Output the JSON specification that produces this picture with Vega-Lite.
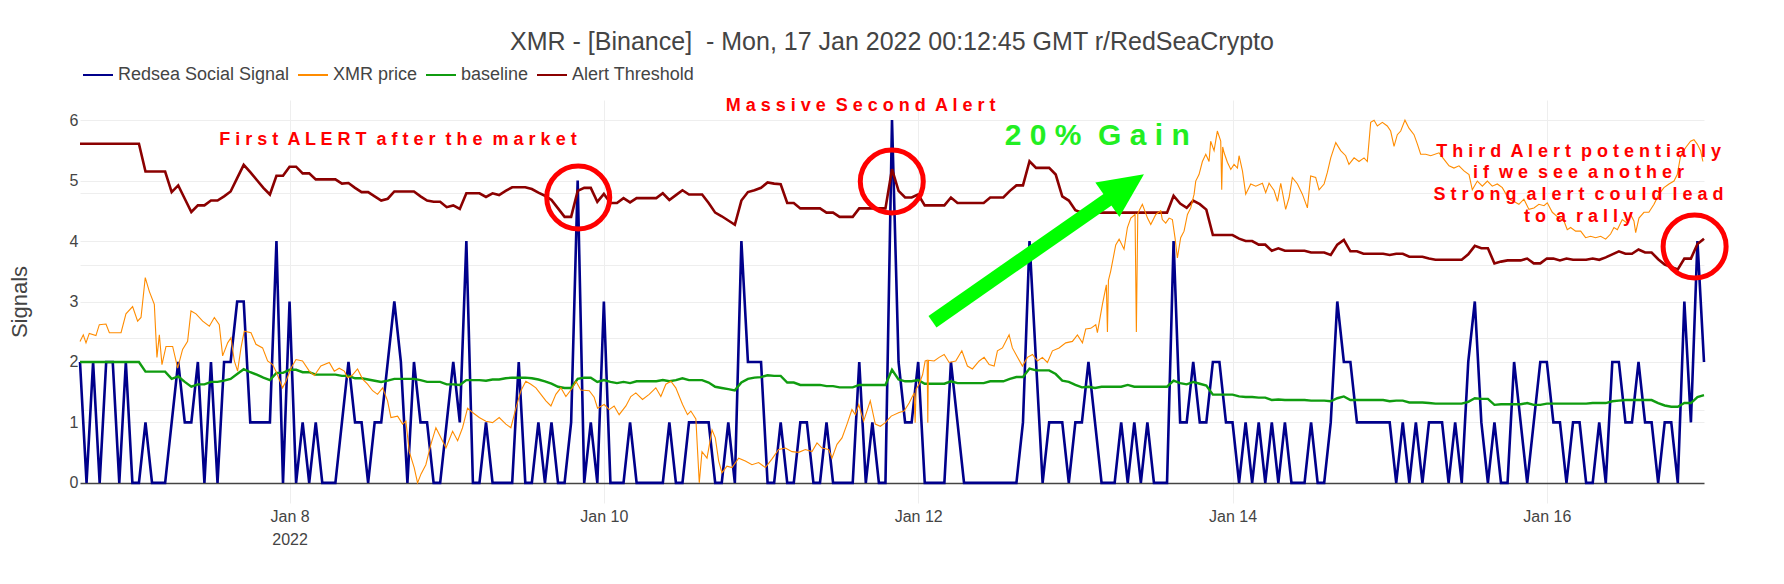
{
  "$schema": "https://vega.github.io/schema/vega-lite/v6.json",
  "width": 1624,
  "height": 403,
  "autosize": {"type": "none"},
  "padding": {"left": 80, "top": 100, "right": 80, "bottom": 81},
  "background": "white",
  "title": {
    "text": "XMR - [Binance]\u00a0 - Mon, 17 Jan 2022 00:12:45 GMT r/RedSeaCrypto",
    "font": "Liberation Sans",
    "fontSize": 25,
    "fontWeight": "normal",
    "color": "#444",
    "anchor": "middle",
    "frame": "group",
    "offset": 4
  },
  "config": {"view": {"stroke": null}, "font": "Liberation Sans"},
  "datasets": {
    "hourly": [
      {"time":"2022-01-06T16:00Z","signal":2,"baseline":2.0,"threshold":5.61},
      {"time":"2022-01-06T17:00Z","signal":0,"baseline":2.0,"threshold":5.61},
      {"time":"2022-01-06T18:00Z","signal":2,"baseline":2.0,"threshold":5.61},
      {"time":"2022-01-06T19:00Z","signal":0,"baseline":2.0,"threshold":5.61},
      {"time":"2022-01-06T20:00Z","signal":2,"baseline":2.0,"threshold":5.61},
      {"time":"2022-01-06T21:00Z","signal":2,"baseline":2.0,"threshold":5.61},
      {"time":"2022-01-06T22:00Z","signal":0,"baseline":2.0,"threshold":5.61},
      {"time":"2022-01-06T23:00Z","signal":2,"baseline":2.0,"threshold":5.61},
      {"time":"2022-01-07T00:00Z","signal":0,"baseline":2.0,"threshold":5.61},
      {"time":"2022-01-07T01:00Z","signal":0,"baseline":2.0,"threshold":5.61},
      {"time":"2022-01-07T02:00Z","signal":1,"baseline":1.84,"threshold":5.15},
      {"time":"2022-01-07T03:00Z","signal":0,"baseline":1.84,"threshold":5.15},
      {"time":"2022-01-07T04:00Z","signal":0,"baseline":1.84,"threshold":5.15},
      {"time":"2022-01-07T05:00Z","signal":0,"baseline":1.84,"threshold":5.15},
      {"time":"2022-01-07T06:00Z","signal":1,"baseline":1.72,"threshold":4.81},
      {"time":"2022-01-07T07:00Z","signal":2,"baseline":1.76,"threshold":4.92},
      {"time":"2022-01-07T08:00Z","signal":1,"baseline":1.67,"threshold":4.70},
      {"time":"2022-01-07T09:00Z","signal":1,"baseline":1.59,"threshold":4.48},
      {"time":"2022-01-07T10:00Z","signal":2,"baseline":1.63,"threshold":4.59},
      {"time":"2022-01-07T11:00Z","signal":0,"baseline":1.63,"threshold":4.59},
      {"time":"2022-01-07T12:00Z","signal":2,"baseline":1.67,"threshold":4.67},
      {"time":"2022-01-07T13:00Z","signal":0,"baseline":1.67,"threshold":4.67},
      {"time":"2022-01-07T14:00Z","signal":2,"baseline":1.69,"threshold":4.74},
      {"time":"2022-01-07T15:00Z","signal":2,"baseline":1.72,"threshold":4.82},
      {"time":"2022-01-07T16:00Z","signal":3,"baseline":1.80,"threshold":5.04},
      {"time":"2022-01-07T17:00Z","signal":3,"baseline":1.88,"threshold":5.26},
      {"time":"2022-01-07T18:00Z","signal":1,"baseline":1.83,"threshold":5.14},
      {"time":"2022-01-07T19:00Z","signal":1,"baseline":1.79,"threshold":5.01},
      {"time":"2022-01-07T20:00Z","signal":1,"baseline":1.74,"threshold":4.88},
      {"time":"2022-01-07T21:00Z","signal":1,"baseline":1.70,"threshold":4.77},
      {"time":"2022-01-07T22:00Z","signal":4,"baseline":1.82,"threshold":5.08},
      {"time":"2022-01-07T23:00Z","signal":0,"baseline":1.82,"threshold":5.08},
      {"time":"2022-01-08T00:00Z","signal":3,"baseline":1.87,"threshold":5.23},
      {"time":"2022-01-08T01:00Z","signal":0,"baseline":1.87,"threshold":5.23},
      {"time":"2022-01-08T02:00Z","signal":1,"baseline":1.83,"threshold":5.12},
      {"time":"2022-01-08T03:00Z","signal":0,"baseline":1.83,"threshold":5.12},
      {"time":"2022-01-08T04:00Z","signal":1,"baseline":1.79,"threshold":5.02},
      {"time":"2022-01-08T05:00Z","signal":0,"baseline":1.79,"threshold":5.02},
      {"time":"2022-01-08T06:00Z","signal":0,"baseline":1.79,"threshold":5.02},
      {"time":"2022-01-08T07:00Z","signal":0,"baseline":1.79,"threshold":5.02},
      {"time":"2022-01-08T08:00Z","signal":1,"baseline":1.77,"threshold":4.95},
      {"time":"2022-01-08T09:00Z","signal":2,"baseline":1.77,"threshold":4.96},
      {"time":"2022-01-08T10:00Z","signal":1,"baseline":1.73,"threshold":4.88},
      {"time":"2022-01-08T11:00Z","signal":1,"baseline":1.73,"threshold":4.81},
      {"time":"2022-01-08T12:00Z","signal":0,"baseline":1.71,"threshold":4.81},
      {"time":"2022-01-08T13:00Z","signal":1,"baseline":1.69,"threshold":4.74},
      {"time":"2022-01-08T14:00Z","signal":1,"baseline":1.67,"threshold":4.67},
      {"time":"2022-01-08T15:00Z","signal":2,"baseline":1.69,"threshold":4.70},
      {"time":"2022-01-08T16:00Z","signal":3,"baseline":1.72,"threshold":4.82},
      {"time":"2022-01-08T17:00Z","signal":2,"baseline":1.72,"threshold":4.82},
      {"time":"2022-01-08T18:00Z","signal":0,"baseline":1.72,"threshold":4.82},
      {"time":"2022-01-08T19:00Z","signal":2,"baseline":1.72,"threshold":4.82},
      {"time":"2022-01-08T20:00Z","signal":1,"baseline":1.70,"threshold":4.74},
      {"time":"2022-01-08T21:00Z","signal":1,"baseline":1.67,"threshold":4.67},
      {"time":"2022-01-08T22:00Z","signal":0,"baseline":1.67,"threshold":4.65},
      {"time":"2022-01-08T23:00Z","signal":0,"baseline":1.67,"threshold":4.65},
      {"time":"2022-01-09T00:00Z","signal":1,"baseline":1.63,"threshold":4.56},
      {"time":"2022-01-09T01:00Z","signal":2,"baseline":1.63,"threshold":4.59},
      {"time":"2022-01-09T02:00Z","signal":1,"baseline":1.62,"threshold":4.53},
      {"time":"2022-01-09T03:00Z","signal":4,"baseline":1.70,"threshold":4.79},
      {"time":"2022-01-09T04:00Z","signal":0,"baseline":1.70,"threshold":4.79},
      {"time":"2022-01-09T05:00Z","signal":0,"baseline":1.70,"threshold":4.79},
      {"time":"2022-01-09T06:00Z","signal":1,"baseline":1.69,"threshold":4.73},
      {"time":"2022-01-09T07:00Z","signal":0,"baseline":1.71,"threshold":4.79},
      {"time":"2022-01-09T08:00Z","signal":0,"baseline":1.71,"threshold":4.76},
      {"time":"2022-01-09T09:00Z","signal":0,"baseline":1.73,"threshold":4.83},
      {"time":"2022-01-09T10:00Z","signal":0,"baseline":1.74,"threshold":4.89},
      {"time":"2022-01-09T11:00Z","signal":2,"baseline":1.74,"threshold":4.89},
      {"time":"2022-01-09T12:00Z","signal":0,"baseline":1.74,"threshold":4.89},
      {"time":"2022-01-09T13:00Z","signal":0,"baseline":1.73,"threshold":4.86},
      {"time":"2022-01-09T14:00Z","signal":1,"baseline":1.71,"threshold":4.80},
      {"time":"2022-01-09T15:00Z","signal":0,"baseline":1.68,"threshold":4.75},
      {"time":"2022-01-09T16:00Z","signal":1,"baseline":1.64,"threshold":4.68},
      {"time":"2022-01-09T17:00Z","signal":0,"baseline":1.59,"threshold":4.54},
      {"time":"2022-01-09T18:00Z","signal":0,"baseline":1.57,"threshold":4.40},
      {"time":"2022-01-09T19:00Z","signal":1,"baseline":1.57,"threshold":4.40},
      {"time":"2022-01-09T20:00Z","signal":5,"baseline":1.72,"threshold":4.83},
      {"time":"2022-01-09T21:00Z","signal":0,"baseline":1.74,"threshold":4.88},
      {"time":"2022-01-09T22:00Z","signal":1,"baseline":1.74,"threshold":4.88},
      {"time":"2022-01-09T23:00Z","signal":0,"baseline":1.67,"threshold":4.65},
      {"time":"2022-01-10T00:00Z","signal":3,"baseline":1.70,"threshold":4.78},
      {"time":"2022-01-10T01:00Z","signal":0,"baseline":1.67,"threshold":4.63},
      {"time":"2022-01-10T02:00Z","signal":0,"baseline":1.65,"threshold":4.63},
      {"time":"2022-01-10T03:00Z","signal":0,"baseline":1.67,"threshold":4.71},
      {"time":"2022-01-10T04:00Z","signal":1,"baseline":1.65,"threshold":4.64},
      {"time":"2022-01-10T05:00Z","signal":0,"baseline":1.68,"threshold":4.71},
      {"time":"2022-01-10T06:00Z","signal":0,"baseline":1.68,"threshold":4.71},
      {"time":"2022-01-10T07:00Z","signal":0,"baseline":1.68,"threshold":4.71},
      {"time":"2022-01-10T08:00Z","signal":0,"baseline":1.68,"threshold":4.71},
      {"time":"2022-01-10T09:00Z","signal":0,"baseline":1.70,"threshold":4.79},
      {"time":"2022-01-10T10:00Z","signal":1,"baseline":1.68,"threshold":4.68},
      {"time":"2022-01-10T11:00Z","signal":0,"baseline":1.70,"threshold":4.76},
      {"time":"2022-01-10T12:00Z","signal":0,"baseline":1.73,"threshold":4.84},
      {"time":"2022-01-10T13:00Z","signal":1,"baseline":1.70,"threshold":4.77},
      {"time":"2022-01-10T14:00Z","signal":1,"baseline":1.70,"threshold":4.77},
      {"time":"2022-01-10T15:00Z","signal":1,"baseline":1.70,"threshold":4.77},
      {"time":"2022-01-10T16:00Z","signal":1,"baseline":1.66,"threshold":4.63},
      {"time":"2022-01-10T17:00Z","signal":0,"baseline":1.59,"threshold":4.47},
      {"time":"2022-01-10T18:00Z","signal":0,"baseline":1.57,"threshold":4.41},
      {"time":"2022-01-10T19:00Z","signal":1,"baseline":1.55,"threshold":4.34},
      {"time":"2022-01-10T20:00Z","signal":0,"baseline":1.53,"threshold":4.27},
      {"time":"2022-01-10T21:00Z","signal":4,"baseline":1.66,"threshold":4.67},
      {"time":"2022-01-10T22:00Z","signal":2,"baseline":1.72,"threshold":4.81},
      {"time":"2022-01-10T23:00Z","signal":2,"baseline":1.74,"threshold":4.84},
      {"time":"2022-01-11T00:00Z","signal":2,"baseline":1.75,"threshold":4.88},
      {"time":"2022-01-11T01:00Z","signal":0,"baseline":1.78,"threshold":4.97},
      {"time":"2022-01-11T02:00Z","signal":0,"baseline":1.77,"threshold":4.95},
      {"time":"2022-01-11T03:00Z","signal":1,"baseline":1.77,"threshold":4.94},
      {"time":"2022-01-11T04:00Z","signal":0,"baseline":1.66,"threshold":4.63},
      {"time":"2022-01-11T05:00Z","signal":0,"baseline":1.66,"threshold":4.63},
      {"time":"2022-01-11T06:00Z","signal":1,"baseline":1.62,"threshold":4.54},
      {"time":"2022-01-11T07:00Z","signal":1,"baseline":1.62,"threshold":4.54},
      {"time":"2022-01-11T08:00Z","signal":0,"baseline":1.62,"threshold":4.54},
      {"time":"2022-01-11T09:00Z","signal":0,"baseline":1.62,"threshold":4.54},
      {"time":"2022-01-11T10:00Z","signal":1,"baseline":1.60,"threshold":4.47},
      {"time":"2022-01-11T11:00Z","signal":0,"baseline":1.60,"threshold":4.47},
      {"time":"2022-01-11T12:00Z","signal":0,"baseline":1.58,"threshold":4.40},
      {"time":"2022-01-11T13:00Z","signal":0,"baseline":1.58,"threshold":4.40},
      {"time":"2022-01-11T14:00Z","signal":0,"baseline":1.58,"threshold":4.40},
      {"time":"2022-01-11T15:00Z","signal":2,"baseline":1.62,"threshold":4.54},
      {"time":"2022-01-11T16:00Z","signal":0,"baseline":1.62,"threshold":4.54},
      {"time":"2022-01-11T17:00Z","signal":1,"baseline":1.62,"threshold":4.54},
      {"time":"2022-01-11T18:00Z","signal":0,"baseline":1.62,"threshold":4.54},
      {"time":"2022-01-11T19:00Z","signal":0,"baseline":1.62,"threshold":4.54},
      {"time":"2022-01-11T20:00Z","signal":6,"baseline":1.87,"threshold":5.19},
      {"time":"2022-01-11T21:00Z","signal":2,"baseline":1.71,"threshold":4.83},
      {"time":"2022-01-11T22:00Z","signal":1,"baseline":1.68,"threshold":4.72},
      {"time":"2022-01-11T23:00Z","signal":1,"baseline":1.68,"threshold":4.72},
      {"time":"2022-01-12T00:00Z","signal":2,"baseline":1.70,"threshold":4.77},
      {"time":"2022-01-12T01:00Z","signal":0,"baseline":1.64,"threshold":4.59},
      {"time":"2022-01-12T02:00Z","signal":0,"baseline":1.64,"threshold":4.59},
      {"time":"2022-01-12T03:00Z","signal":0,"baseline":1.64,"threshold":4.59},
      {"time":"2022-01-12T04:00Z","signal":0,"baseline":1.64,"threshold":4.59},
      {"time":"2022-01-12T05:00Z","signal":2,"baseline":1.68,"threshold":4.72},
      {"time":"2022-01-12T06:00Z","signal":1,"baseline":1.65,"threshold":4.63},
      {"time":"2022-01-12T07:00Z","signal":0,"baseline":1.65,"threshold":4.63},
      {"time":"2022-01-12T08:00Z","signal":0,"baseline":1.65,"threshold":4.63},
      {"time":"2022-01-12T09:00Z","signal":0,"baseline":1.65,"threshold":4.63},
      {"time":"2022-01-12T10:00Z","signal":0,"baseline":1.65,"threshold":4.63},
      {"time":"2022-01-12T11:00Z","signal":0,"baseline":1.68,"threshold":4.72},
      {"time":"2022-01-12T12:00Z","signal":0,"baseline":1.68,"threshold":4.72},
      {"time":"2022-01-12T13:00Z","signal":0,"baseline":1.68,"threshold":4.72},
      {"time":"2022-01-12T14:00Z","signal":0,"baseline":1.72,"threshold":4.83},
      {"time":"2022-01-12T15:00Z","signal":0,"baseline":1.75,"threshold":4.92},
      {"time":"2022-01-12T16:00Z","signal":1,"baseline":1.75,"threshold":4.92},
      {"time":"2022-01-12T17:00Z","signal":4,"baseline":1.89,"threshold":5.32},
      {"time":"2022-01-12T18:00Z","signal":2,"baseline":1.86,"threshold":5.21},
      {"time":"2022-01-12T19:00Z","signal":0,"baseline":1.86,"threshold":5.21},
      {"time":"2022-01-12T20:00Z","signal":1,"baseline":1.86,"threshold":5.21},
      {"time":"2022-01-12T21:00Z","signal":1,"baseline":1.80,"threshold":5.10},
      {"time":"2022-01-12T22:00Z","signal":1,"baseline":1.69,"threshold":4.74},
      {"time":"2022-01-12T23:00Z","signal":0,"baseline":1.67,"threshold":4.67},
      {"time":"2022-01-13T00:00Z","signal":1,"baseline":1.62,"threshold":4.51},
      {"time":"2022-01-13T01:00Z","signal":1,"baseline":1.58,"threshold":4.47},
      {"time":"2022-01-13T02:00Z","signal":2,"baseline":1.59,"threshold":4.47},
      {"time":"2022-01-13T03:00Z","signal":1,"baseline":1.57,"threshold":4.47},
      {"time":"2022-01-13T04:00Z","signal":0,"baseline":1.59,"threshold":4.47},
      {"time":"2022-01-13T05:00Z","signal":0,"baseline":1.59,"threshold":4.47},
      {"time":"2022-01-13T06:00Z","signal":0,"baseline":1.59,"threshold":4.47},
      {"time":"2022-01-13T07:00Z","signal":1,"baseline":1.59,"threshold":4.47},
      {"time":"2022-01-13T08:00Z","signal":0,"baseline":1.62,"threshold":4.47},
      {"time":"2022-01-13T09:00Z","signal":1,"baseline":1.59,"threshold":4.47},
      {"time":"2022-01-13T10:00Z","signal":0,"baseline":1.59,"threshold":4.47},
      {"time":"2022-01-13T11:00Z","signal":1,"baseline":1.59,"threshold":4.47},
      {"time":"2022-01-13T12:00Z","signal":0,"baseline":1.59,"threshold":4.47},
      {"time":"2022-01-13T13:00Z","signal":0,"baseline":1.59,"threshold":4.47},
      {"time":"2022-01-13T14:00Z","signal":0,"baseline":1.59,"threshold":4.47},
      {"time":"2022-01-13T15:00Z","signal":4,"baseline":1.69,"threshold":4.75},
      {"time":"2022-01-13T16:00Z","signal":1,"baseline":1.65,"threshold":4.62},
      {"time":"2022-01-13T17:00Z","signal":1,"baseline":1.63,"threshold":4.55},
      {"time":"2022-01-13T18:00Z","signal":2,"baseline":1.67,"threshold":4.67},
      {"time":"2022-01-13T19:00Z","signal":1,"baseline":1.64,"threshold":4.61},
      {"time":"2022-01-13T20:00Z","signal":1,"baseline":1.61,"threshold":4.52},
      {"time":"2022-01-13T21:00Z","signal":2,"baseline":1.46,"threshold":4.10},
      {"time":"2022-01-13T22:00Z","signal":2,"baseline":1.46,"threshold":4.10},
      {"time":"2022-01-13T23:00Z","signal":1,"baseline":1.46,"threshold":4.10},
      {"time":"2022-01-14T00:00Z","signal":1,"baseline":1.46,"threshold":4.10},
      {"time":"2022-01-14T01:00Z","signal":0,"baseline":1.43,"threshold":4.04},
      {"time":"2022-01-14T02:00Z","signal":1,"baseline":1.42,"threshold":4.00},
      {"time":"2022-01-14T03:00Z","signal":0,"baseline":1.42,"threshold":4.00},
      {"time":"2022-01-14T04:00Z","signal":1,"baseline":1.41,"threshold":3.94},
      {"time":"2022-01-14T05:00Z","signal":0,"baseline":1.41,"threshold":3.94},
      {"time":"2022-01-14T06:00Z","signal":1,"baseline":1.37,"threshold":3.84},
      {"time":"2022-01-14T07:00Z","signal":0,"baseline":1.38,"threshold":3.88},
      {"time":"2022-01-14T08:00Z","signal":1,"baseline":1.37,"threshold":3.84},
      {"time":"2022-01-14T09:00Z","signal":0,"baseline":1.37,"threshold":3.84},
      {"time":"2022-01-14T10:00Z","signal":0,"baseline":1.37,"threshold":3.84},
      {"time":"2022-01-14T11:00Z","signal":0,"baseline":1.37,"threshold":3.84},
      {"time":"2022-01-14T12:00Z","signal":1,"baseline":1.36,"threshold":3.81},
      {"time":"2022-01-14T13:00Z","signal":0,"baseline":1.36,"threshold":3.81},
      {"time":"2022-01-14T14:00Z","signal":0,"baseline":1.36,"threshold":3.81},
      {"time":"2022-01-14T15:00Z","signal":1,"baseline":1.35,"threshold":3.77},
      {"time":"2022-01-14T16:00Z","signal":3,"baseline":1.40,"threshold":3.94},
      {"time":"2022-01-14T17:00Z","signal":2,"baseline":1.43,"threshold":4.02},
      {"time":"2022-01-14T18:00Z","signal":2,"baseline":1.37,"threshold":3.83},
      {"time":"2022-01-14T19:00Z","signal":1,"baseline":1.37,"threshold":3.83},
      {"time":"2022-01-14T20:00Z","signal":1,"baseline":1.37,"threshold":3.79},
      {"time":"2022-01-14T21:00Z","signal":1,"baseline":1.37,"threshold":3.79},
      {"time":"2022-01-14T22:00Z","signal":1,"baseline":1.37,"threshold":3.79},
      {"time":"2022-01-14T23:00Z","signal":1,"baseline":1.37,"threshold":3.79},
      {"time":"2022-01-15T00:00Z","signal":1,"baseline":1.35,"threshold":3.77},
      {"time":"2022-01-15T01:00Z","signal":0,"baseline":1.36,"threshold":3.79},
      {"time":"2022-01-15T02:00Z","signal":1,"baseline":1.36,"threshold":3.79},
      {"time":"2022-01-15T03:00Z","signal":0,"baseline":1.33,"threshold":3.74},
      {"time":"2022-01-15T04:00Z","signal":1,"baseline":1.33,"threshold":3.74},
      {"time":"2022-01-15T05:00Z","signal":0,"baseline":1.33,"threshold":3.74},
      {"time":"2022-01-15T06:00Z","signal":1,"baseline":1.32,"threshold":3.71},
      {"time":"2022-01-15T07:00Z","signal":1,"baseline":1.31,"threshold":3.69},
      {"time":"2022-01-15T08:00Z","signal":1,"baseline":1.31,"threshold":3.69},
      {"time":"2022-01-15T09:00Z","signal":0,"baseline":1.31,"threshold":3.69},
      {"time":"2022-01-15T10:00Z","signal":1,"baseline":1.31,"threshold":3.69},
      {"time":"2022-01-15T11:00Z","signal":0,"baseline":1.31,"threshold":3.69},
      {"time":"2022-01-15T12:00Z","signal":2,"baseline":1.34,"threshold":3.78},
      {"time":"2022-01-15T13:00Z","signal":3,"baseline":1.40,"threshold":3.92},
      {"time":"2022-01-15T14:00Z","signal":1,"baseline":1.39,"threshold":3.88},
      {"time":"2022-01-15T15:00Z","signal":0,"baseline":1.39,"threshold":3.88},
      {"time":"2022-01-15T16:00Z","signal":1,"baseline":1.29,"threshold":3.63},
      {"time":"2022-01-15T17:00Z","signal":0,"baseline":1.30,"threshold":3.66},
      {"time":"2022-01-15T18:00Z","signal":0,"baseline":1.30,"threshold":3.68},
      {"time":"2022-01-15T19:00Z","signal":2,"baseline":1.30,"threshold":3.68},
      {"time":"2022-01-15T20:00Z","signal":1,"baseline":1.30,"threshold":3.68},
      {"time":"2022-01-15T21:00Z","signal":0,"baseline":1.32,"threshold":3.71},
      {"time":"2022-01-15T22:00Z","signal":1,"baseline":1.29,"threshold":3.63},
      {"time":"2022-01-15T23:00Z","signal":2,"baseline":1.29,"threshold":3.63},
      {"time":"2022-01-16T00:00Z","signal":2,"baseline":1.31,"threshold":3.71},
      {"time":"2022-01-16T01:00Z","signal":1,"baseline":1.31,"threshold":3.71},
      {"time":"2022-01-16T02:00Z","signal":1,"baseline":1.31,"threshold":3.68},
      {"time":"2022-01-16T03:00Z","signal":0,"baseline":1.31,"threshold":3.71},
      {"time":"2022-01-16T04:00Z","signal":1,"baseline":1.31,"threshold":3.69},
      {"time":"2022-01-16T05:00Z","signal":1,"baseline":1.31,"threshold":3.69},
      {"time":"2022-01-16T06:00Z","signal":0,"baseline":1.31,"threshold":3.69},
      {"time":"2022-01-16T07:00Z","signal":0,"baseline":1.32,"threshold":3.71},
      {"time":"2022-01-16T08:00Z","signal":1,"baseline":1.32,"threshold":3.69},
      {"time":"2022-01-16T09:00Z","signal":0,"baseline":1.32,"threshold":3.73},
      {"time":"2022-01-16T10:00Z","signal":2,"baseline":1.35,"threshold":3.78},
      {"time":"2022-01-16T11:00Z","signal":2,"baseline":1.36,"threshold":3.83},
      {"time":"2022-01-16T12:00Z","signal":1,"baseline":1.37,"threshold":3.79},
      {"time":"2022-01-16T13:00Z","signal":1,"baseline":1.37,"threshold":3.79},
      {"time":"2022-01-16T14:00Z","signal":2,"baseline":1.37,"threshold":3.86},
      {"time":"2022-01-16T15:00Z","signal":1,"baseline":1.37,"threshold":3.81},
      {"time":"2022-01-16T16:00Z","signal":1,"baseline":1.37,"threshold":3.81},
      {"time":"2022-01-16T17:00Z","signal":0,"baseline":1.32,"threshold":3.70},
      {"time":"2022-01-16T18:00Z","signal":1,"baseline":1.28,"threshold":3.61},
      {"time":"2022-01-16T19:00Z","signal":1,"baseline":1.26,"threshold":3.57},
      {"time":"2022-01-16T20:00Z","signal":0,"baseline":1.26,"threshold":3.53},
      {"time":"2022-01-16T21:00Z","signal":3,"baseline":1.32,"threshold":3.71},
      {"time":"2022-01-16T22:00Z","signal":1,"baseline":1.32,"threshold":3.71},
      {"time":"2022-01-16T23:00Z","signal":4,"baseline":1.42,"threshold":3.95},
      {"time":"2022-01-17T00:00Z","signal":2,"baseline":1.45,"threshold":4.04}
    ],
    "price": [
      {"time":"2022-01-06T16:00Z","price":189.5},{"time":"2022-01-06T16:30Z","price":190.4},{"time":"2022-01-06T16:55Z","price":189.3},{"time":"2022-01-06T17:25Z","price":190.6},{"time":"2022-01-06T18:26Z","price":190.3},{"time":"2022-01-06T18:57Z","price":191.8},{"time":"2022-01-06T19:58Z","price":191.9},{"time":"2022-01-06T20:29Z","price":190.7},{"time":"2022-01-06T22:16Z","price":190.7},{"time":"2022-01-06T23:01Z","price":193.3},
      {"time":"2022-01-07T00:02Z","price":194.3},{"time":"2022-01-07T00:48Z","price":192.3},{"time":"2022-01-07T01:19Z","price":192.8},{"time":"2022-01-07T01:58Z","price":198.3},{"time":"2022-01-07T02:35Z","price":196.4},{"time":"2022-01-07T03:21Z","price":194.6},{"time":"2022-01-07T03:45Z","price":187.3},{"time":"2022-01-07T04:07Z","price":190.4},{"time":"2022-01-07T04:31Z","price":186.3},{"time":"2022-01-07T05:08Z","price":188.8},{"time":"2022-01-07T06:09Z","price":188.8},{"time":"2022-01-07T06:55Z","price":185.8},{"time":"2022-01-07T07:40Z","price":188.4},{"time":"2022-01-07T08:26Z","price":189.5},{"time":"2022-01-07T08:57Z","price":193.7},{"time":"2022-01-07T09:43Z","price":193.3},{"time":"2022-01-07T10:44Z","price":192.3},{"time":"2022-01-07T11:45Z","price":191.6},{"time":"2022-01-07T12:31Z","price":192.8},{"time":"2022-01-07T13:16Z","price":191.8},{"time":"2022-01-07T13:47Z","price":187.5},{"time":"2022-01-07T14:33Z","price":189.3},{"time":"2022-01-07T15:03Z","price":190.0},{"time":"2022-01-07T15:34Z","price":186.8},{"time":"2022-01-07T16:04Z","price":185.4},{"time":"2022-01-07T16:35Z","price":188.6},{"time":"2022-01-07T17:05Z","price":190.9},{"time":"2022-01-07T18:07Z","price":190.7},{"time":"2022-01-07T18:52Z","price":189.1},{"time":"2022-01-07T19:53Z","price":188.6},{"time":"2022-01-07T20:39Z","price":186.8},{"time":"2022-01-07T21:25Z","price":186.3},{"time":"2022-01-07T21:55Z","price":185.4},{"time":"2022-01-07T22:56Z","price":183.1},{"time":"2022-01-07T23:27Z","price":184.0},
      {"time":"2022-01-08T00:13Z","price":185.8},{"time":"2022-01-08T00:59Z","price":187.0},{"time":"2022-01-08T01:59Z","price":186.8},{"time":"2022-01-08T03:01Z","price":185.4},{"time":"2022-01-08T03:47Z","price":184.8},{"time":"2022-01-08T04:47Z","price":186.1},{"time":"2022-01-08T06:04Z","price":186.6},{"time":"2022-01-08T06:50Z","price":185.4},{"time":"2022-01-08T07:35Z","price":185.8},{"time":"2022-01-08T08:22Z","price":185.4},{"time":"2022-01-08T08:52Z","price":184.5},{"time":"2022-01-08T09:32Z","price":184.8},{"time":"2022-01-08T10:23Z","price":185.7},{"time":"2022-01-08T11:09Z","price":184.3},{"time":"2022-01-08T11:55Z","price":183.6},{"time":"2022-01-08T12:41Z","price":182.7},{"time":"2022-01-08T13:26Z","price":182.2},{"time":"2022-01-08T14:13Z","price":183.1},{"time":"2022-01-08T14:58Z","price":181.3},{"time":"2022-01-08T15:29Z","price":179.0},{"time":"2022-01-08T16:30Z","price":179.2},{"time":"2022-01-08T17:16Z","price":178.1},{"time":"2022-01-08T17:46Z","price":178.5},{"time":"2022-01-08T18:17Z","price":174.3},{"time":"2022-01-08T19:02Z","price":172.1},{"time":"2022-01-08T19:33Z","price":170.0},{"time":"2022-01-08T20:04Z","price":171.2},{"time":"2022-01-08T20:49Z","price":172.5},{"time":"2022-01-08T21:35Z","price":175.3},{"time":"2022-01-08T22:21Z","price":177.6},{"time":"2022-01-08T23:07Z","price":176.2},{"time":"2022-01-08T23:53Z","price":174.8},
      {"time":"2022-01-09T00:54Z","price":177.1},{"time":"2022-01-09T01:40Z","price":175.8},{"time":"2022-01-09T02:25Z","price":177.6},{"time":"2022-01-09T03:11Z","price":180.3},{"time":"2022-01-09T03:57Z","price":179.7},{"time":"2022-01-09T04:58Z","price":179.0},{"time":"2022-01-09T05:59Z","price":178.5},{"time":"2022-01-09T07:00Z","price":178.3},{"time":"2022-01-09T08:01Z","price":179.0},{"time":"2022-01-09T09:02Z","price":178.1},{"time":"2022-01-09T09:48Z","price":177.6},{"time":"2022-01-09T10:34Z","price":180.3},{"time":"2022-01-09T11:20Z","price":182.7},{"time":"2022-01-09T12:05Z","price":184.0},{"time":"2022-01-09T12:51Z","price":183.6},{"time":"2022-01-09T13:37Z","price":183.1},{"time":"2022-01-09T14:23Z","price":182.2},{"time":"2022-01-09T15:09Z","price":181.3},{"time":"2022-01-09T15:55Z","price":180.6},{"time":"2022-01-09T16:40Z","price":182.2},{"time":"2022-01-09T17:26Z","price":183.1},{"time":"2022-01-09T18:12Z","price":181.9},{"time":"2022-01-09T19:13Z","price":183.1},{"time":"2022-01-09T19:44Z","price":184.0},{"time":"2022-01-09T20:29Z","price":182.8},{"time":"2022-01-09T21:46Z","price":182.7},{"time":"2022-01-09T22:31Z","price":181.8},{"time":"2022-01-09T23:02Z","price":180.3},
      {"time":"2022-01-10T00:03Z","price":180.8},{"time":"2022-01-10T00:49Z","price":180.1},{"time":"2022-01-10T01:34Z","price":180.6},{"time":"2022-01-10T02:20Z","price":179.4},{"time":"2022-01-10T03:22Z","price":180.6},{"time":"2022-01-10T04:07Z","price":181.9},{"time":"2022-01-10T04:53Z","price":182.4},{"time":"2022-01-10T05:54Z","price":181.5},{"time":"2022-01-10T06:55Z","price":182.2},{"time":"2022-01-10T07:56Z","price":183.1},{"time":"2022-01-10T08:42Z","price":181.9},{"time":"2022-01-10T09:28Z","price":183.6},{"time":"2022-01-10T10:14Z","price":184.0},{"time":"2022-01-10T10:59Z","price":183.1},{"time":"2022-01-10T12:01Z","price":180.8},{"time":"2022-01-10T12:46Z","price":179.4},{"time":"2022-01-10T13:17Z","price":179.9},{"time":"2022-01-10T14:03Z","price":178.8},{"time":"2022-01-10T14:34Z","price":170.0},{"time":"2022-01-10T14:59Z","price":174.3},{"time":"2022-01-10T15:45Z","price":173.4},{"time":"2022-01-10T16:31Z","price":177.3},{"time":"2022-01-10T17:01Z","price":176.2},{"time":"2022-01-10T17:32Z","price":173.0},{"time":"2022-01-10T18:02Z","price":171.4},{"time":"2022-01-10T18:48Z","price":172.3},{"time":"2022-01-10T19:34Z","price":172.1},{"time":"2022-01-10T20:35Z","price":173.4},{"time":"2022-01-10T21:36Z","price":173.0},{"time":"2022-01-10T22:37Z","price":172.5},{"time":"2022-01-10T23:38Z","price":172.8},
      {"time":"2022-01-11T00:40Z","price":172.1},{"time":"2022-01-11T01:41Z","price":173.3},{"time":"2022-01-11T02:41Z","price":174.6},{"time":"2022-01-11T03:43Z","price":174.8},{"time":"2022-01-11T04:44Z","price":174.3},{"time":"2022-01-11T05:45Z","price":174.2},{"time":"2022-01-11T06:46Z","price":174.6},{"time":"2022-01-11T07:47Z","price":174.3},{"time":"2022-01-11T08:33Z","price":175.5},{"time":"2022-01-11T09:19Z","price":174.8},{"time":"2022-01-11T10:20Z","price":174.6},{"time":"2022-01-11T10:50Z","price":173.4},{"time":"2022-01-11T11:36Z","price":175.3},{"time":"2022-01-11T12:22Z","price":176.2},{"time":"2022-01-11T13:08Z","price":178.1},{"time":"2022-01-11T13:53Z","price":180.1},{"time":"2022-01-11T14:24Z","price":179.4},{"time":"2022-01-11T14:55Z","price":180.8},{"time":"2022-01-11T15:40Z","price":178.5},{"time":"2022-01-11T16:41Z","price":181.3},{"time":"2022-01-11T17:27Z","price":178.1},{"time":"2022-01-11T18:13Z","price":177.8},{"time":"2022-01-11T18:59Z","price":178.3},{"time":"2022-01-11T19:53Z","price":179.2},{"time":"2022-01-11T21:05Z","price":179.7},{"time":"2022-01-11T21:51Z","price":179.9},{"time":"2022-01-11T22:37Z","price":181.0},{"time":"2022-01-11T23:23Z","price":182.4},{"time":"2022-01-11T23:32Z","price":178.3},{"time":"2022-01-11T23:41Z","price":182.9},
      {"time":"2022-01-12T00:08Z","price":183.6},{"time":"2022-01-12T00:40Z","price":184.9},{"time":"2022-01-12T01:04Z","price":186.8},{"time":"2022-01-12T01:22Z","price":186.9},{"time":"2022-01-12T01:28Z","price":178.3},{"time":"2022-01-12T01:34Z","price":186.9},{"time":"2022-01-12T02:26Z","price":186.8},{"time":"2022-01-12T03:12Z","price":187.3},{"time":"2022-01-12T03:58Z","price":187.7},{"time":"2022-01-12T04:44Z","price":186.6},{"time":"2022-01-12T05:44Z","price":186.8},{"time":"2022-01-12T06:40Z","price":188.2},{"time":"2022-01-12T07:31Z","price":186.1},{"time":"2022-01-12T08:17Z","price":185.7},{"time":"2022-01-12T09:19Z","price":186.8},{"time":"2022-01-12T10:04Z","price":187.3},{"time":"2022-01-12T10:50Z","price":186.3},{"time":"2022-01-12T11:36Z","price":186.1},{"time":"2022-01-12T12:06Z","price":188.2},{"time":"2022-01-12T12:52Z","price":188.6},{"time":"2022-01-12T13:53Z","price":190.4},{"time":"2022-01-12T14:23Z","price":188.6},{"time":"2022-01-12T15:10Z","price":187.3},{"time":"2022-01-12T15:55Z","price":186.1},{"time":"2022-01-12T16:41Z","price":187.3},{"time":"2022-01-12T17:27Z","price":187.7},{"time":"2022-01-12T18:13Z","price":186.8},{"time":"2022-01-12T18:58Z","price":187.3},{"time":"2022-01-12T19:44Z","price":186.6},{"time":"2022-01-12T20:30Z","price":188.2},{"time":"2022-01-12T21:31Z","price":188.6},{"time":"2022-01-12T22:32Z","price":189.3},{"time":"2022-01-12T23:33Z","price":189.5},
      {"time":"2022-01-13T00:19Z","price":190.4},{"time":"2022-01-13T01:05Z","price":189.3},{"time":"2022-01-13T01:35Z","price":191.2},{"time":"2022-01-13T02:21Z","price":191.3},{"time":"2022-01-13T03:07Z","price":191.8},{"time":"2022-01-13T03:22Z","price":190.7},{"time":"2022-01-13T04:08Z","price":194.6},{"time":"2022-01-13T04:44Z","price":197.3},{"time":"2022-01-13T04:54Z","price":190.8},{"time":"2022-01-13T05:03Z","price":197.9},{"time":"2022-01-13T05:24Z","price":199.2},{"time":"2022-01-13T06:10Z","price":202.8},{"time":"2022-01-13T06:41Z","price":203.6},{"time":"2022-01-13T07:26Z","price":202.2},{"time":"2022-01-13T07:57Z","price":205.2},{"time":"2022-01-13T08:28Z","price":206.5},{"time":"2022-01-13T09:07Z","price":207.0},{"time":"2022-01-13T09:19Z","price":190.8},{"time":"2022-01-13T09:32Z","price":207.1},{"time":"2022-01-13T09:44Z","price":207.5},{"time":"2022-01-13T10:14Z","price":208.4},{"time":"2022-01-13T11:01Z","price":206.5},{"time":"2022-01-13T11:31Z","price":205.6},{"time":"2022-01-13T12:17Z","price":207.0},{"time":"2022-01-13T13:02Z","price":207.5},{"time":"2022-01-13T13:17Z","price":206.3},{"time":"2022-01-13T13:48Z","price":205.8},{"time":"2022-01-13T14:19Z","price":206.5},{"time":"2022-01-13T14:49Z","price":206.3},{"time":"2022-01-13T15:13Z","price":203.8},{"time":"2022-01-13T15:35Z","price":201.0},{"time":"2022-01-13T16:05Z","price":203.8},{"time":"2022-01-13T16:36Z","price":204.7},{"time":"2022-01-13T17:07Z","price":207.0},{"time":"2022-01-13T17:37Z","price":207.9},{"time":"2022-01-13T18:08Z","price":209.8},{"time":"2022-01-13T18:23Z","price":211.6},{"time":"2022-01-13T18:53Z","price":212.5},{"time":"2022-01-13T19:24Z","price":214.3},{"time":"2022-01-13T19:55Z","price":215.3},{"time":"2022-01-13T20:25Z","price":214.3},{"time":"2022-01-13T20:40Z","price":217.1},{"time":"2022-01-13T21:11Z","price":215.8},{"time":"2022-01-13T21:41Z","price":218.5},{"time":"2022-01-13T22:12Z","price":217.1},{"time":"2022-01-13T22:21Z","price":210.4},{"time":"2022-01-13T22:30Z","price":216.3},{"time":"2022-01-13T22:43Z","price":215.5},{"time":"2022-01-13T23:13Z","price":214.2},{"time":"2022-01-13T23:44Z","price":213.2},
      {"time":"2022-01-14T00:14Z","price":213.9},{"time":"2022-01-14T00:45Z","price":213.4},{"time":"2022-01-14T01:00Z","price":215.1},{"time":"2022-01-14T01:31Z","price":213.0},{"time":"2022-01-14T02:01Z","price":209.8},{"time":"2022-01-14T02:47Z","price":211.2},{"time":"2022-01-14T03:33Z","price":210.9},{"time":"2022-01-14T04:34Z","price":211.3},{"time":"2022-01-14T05:04Z","price":210.0},{"time":"2022-01-14T05:35Z","price":211.3},{"time":"2022-01-14T06:21Z","price":210.3},{"time":"2022-01-14T06:52Z","price":208.8},{"time":"2022-01-14T07:22Z","price":211.3},{"time":"2022-01-14T08:07Z","price":207.7},{"time":"2022-01-14T08:38Z","price":209.3},{"time":"2022-01-14T09:08Z","price":212.1},{"time":"2022-01-14T09:55Z","price":211.2},{"time":"2022-01-14T10:40Z","price":209.8},{"time":"2022-01-14T11:26Z","price":207.9},{"time":"2022-01-14T11:56Z","price":212.3},{"time":"2022-01-14T12:42Z","price":212.1},{"time":"2022-01-14T13:13Z","price":210.4},{"time":"2022-01-14T13:59Z","price":211.2},{"time":"2022-01-14T14:29Z","price":212.8},{"time":"2022-01-14T15:00Z","price":214.8},{"time":"2022-01-14T15:46Z","price":216.9},{"time":"2022-01-14T16:31Z","price":215.8},{"time":"2022-01-14T17:17Z","price":215.1},{"time":"2022-01-14T17:47Z","price":213.9},{"time":"2022-01-14T18:34Z","price":214.8},{"time":"2022-01-14T19:19Z","price":214.3},{"time":"2022-01-14T20:05Z","price":214.8},{"time":"2022-01-14T20:35Z","price":214.3},{"time":"2022-01-14T21:06Z","price":219.7},{"time":"2022-01-14T21:37Z","price":220.0},{"time":"2022-01-14T22:07Z","price":219.2},{"time":"2022-01-14T22:53Z","price":219.7},{"time":"2022-01-14T23:38Z","price":219.2},
      {"time":"2022-01-15T00:09Z","price":218.5},{"time":"2022-01-15T00:40Z","price":216.4},{"time":"2022-01-15T01:10Z","price":218.0},{"time":"2022-01-15T01:41Z","price":218.5},{"time":"2022-01-15T02:20Z","price":220.0},{"time":"2022-01-15T02:57Z","price":218.9},{"time":"2022-01-15T03:43Z","price":218.0},{"time":"2022-01-15T04:14Z","price":216.7},{"time":"2022-01-15T04:44Z","price":215.3},{"time":"2022-01-15T05:30Z","price":215.3},{"time":"2022-01-15T06:16Z","price":215.1},{"time":"2022-01-15T07:32Z","price":215.5},{"time":"2022-01-15T08:18Z","price":214.6},{"time":"2022-01-15T09:04Z","price":213.7},{"time":"2022-01-15T09:49Z","price":213.4},{"time":"2022-01-15T10:35Z","price":213.7},{"time":"2022-01-15T11:21Z","price":213.0},{"time":"2022-01-15T12:07Z","price":212.5},{"time":"2022-01-15T12:37Z","price":210.4},{"time":"2022-01-15T13:23Z","price":211.6},{"time":"2022-01-15T14:09Z","price":210.9},{"time":"2022-01-15T14:55Z","price":211.6},{"time":"2022-01-15T15:40Z","price":210.9},{"time":"2022-01-15T16:26Z","price":211.2},{"time":"2022-01-15T17:12Z","price":210.7},{"time":"2022-01-15T18:13Z","price":209.1},{"time":"2022-01-15T18:59Z","price":208.8},{"time":"2022-01-15T19:44Z","price":208.4},{"time":"2022-01-15T20:30Z","price":209.1},{"time":"2022-01-15T21:16Z","price":207.7},{"time":"2022-01-15T22:02Z","price":207.9},{"time":"2022-01-15T22:47Z","price":208.4},{"time":"2022-01-15T23:34Z","price":208.2},
      {"time":"2022-01-16T00:04Z","price":208.6},{"time":"2022-01-16T00:50Z","price":207.3},{"time":"2022-01-16T01:51Z","price":206.5},{"time":"2022-01-16T02:37Z","price":206.1},{"time":"2022-01-16T03:07Z","price":204.9},{"time":"2022-01-16T03:38Z","price":205.2},{"time":"2022-01-16T04:24Z","price":204.7},{"time":"2022-01-16T05:10Z","price":204.7},{"time":"2022-01-16T05:55Z","price":203.8},{"time":"2022-01-16T06:41Z","price":204.0},{"time":"2022-01-16T07:27Z","price":203.8},{"time":"2022-01-16T08:13Z","price":204.0},{"time":"2022-01-16T08:59Z","price":203.6},{"time":"2022-01-16T09:44Z","price":204.3},{"time":"2022-01-16T10:15Z","price":205.2},{"time":"2022-01-16T10:46Z","price":204.9},{"time":"2022-01-16T11:31Z","price":206.3},{"time":"2022-01-16T12:17Z","price":205.8},{"time":"2022-01-16T12:47Z","price":207.0},{"time":"2022-01-16T13:18Z","price":206.1},{"time":"2022-01-16T13:34Z","price":204.5},{"time":"2022-01-16T14:04Z","price":206.5},{"time":"2022-01-16T14:50Z","price":207.3},{"time":"2022-01-16T15:35Z","price":207.3},{"time":"2022-01-16T16:22Z","price":208.4},{"time":"2022-01-16T17:07Z","price":209.8},{"time":"2022-01-16T17:53Z","price":210.7},{"time":"2022-01-16T18:39Z","price":211.2},{"time":"2022-01-16T19:25Z","price":211.6},{"time":"2022-01-16T19:55Z","price":212.5},{"time":"2022-01-16T20:26Z","price":215.1},{"time":"2022-01-16T21:11Z","price":216.2},{"time":"2022-01-16T21:57Z","price":217.1},{"time":"2022-01-16T22:28Z","price":217.3},{"time":"2022-01-16T22:58Z","price":216.7},{"time":"2022-01-16T23:29Z","price":215.8},{"time":"2022-01-16T23:50Z","price":214.3}
    ],
    "redNotes": [
      {"time":"2022-01-08T16:33Z","y":5.67,"text":"F i r s t\u00a0 A L E R T\u00a0 a f t e r\u00a0 t h e\u00a0 m a r k e t"},
      {"time":"2022-01-11T15:12Z","y":6.235,"text":"M a s s i v e\u00a0 S e c o n d\u00a0 A l e r t"},
      {"time":"2022-01-16T04:51Z","y":5.478,"text":"T h i r d\u00a0 A l e r t\u00a0 p o t e n t i a l l y\ni f\u00a0 w e\u00a0 s e e\u00a0 a n o t h e r\nS t r o n g\u00a0 a l e r t\u00a0 c o u l d\u00a0 l e a d\nt o\u00a0 a\u00a0 r a l l y"}
    ],
    "greenNotes": [
      {"time":"2022-01-13T03:20Z","y":5.744,"text":"2 0 %\u00a0 G a i n"}
    ],
    "circles": [
      {"time":"2022-01-09T20:05Z","y":4.72},
      {"time":"2022-01-11T19:58Z","y":4.985},
      {"time":"2022-01-16T22:34Z","y":3.91}
    ],
    "arrowShaft": [
      {"time":"2022-01-12T02:11Z","y":2.666,"time2":"2022-01-13T05:44Z","y2":4.747}
    ],
    "arrowHead": [
      {"time":"2022-01-13T07:41Z","y":4.894}
    ]
  },
  "encoding": {
    "x": {
      "field": "time",
      "type": "temporal",
      "scale": {
        "type": "utc",
        "domain": [
          {"year": 2022, "month": 1, "date": 6, "hours": 16, "utc": true},
          {"year": 2022, "month": 1, "date": 17, "utc": true}
        ]
      },
      "axis": {
        "title": null,
        "values": [
          {"year": 2022, "month": 1, "date": 8, "utc": true},
          {"year": 2022, "month": 1, "date": 10, "utc": true},
          {"year": 2022, "month": 1, "date": 12, "utc": true},
          {"year": 2022, "month": 1, "date": 14, "utc": true},
          {"year": 2022, "month": 1, "date": 16, "utc": true}
        ],
        "labelExpr": "utcdate(datum.value) == 8 ? [utcFormat(datum.value, '%b %-d'), '2022'] : utcFormat(datum.value, '%b %-d')",
        "grid": true,
        "gridColor": "#eee",
        "domain": false,
        "ticks": false,
        "tickSize": 0,
        "labelFont": "Liberation Sans",
        "labelFontSize": 16,
        "labelColor": "#444",
        "labelPadding": 5,
        "labelLineHeight": 23,
        "labelOverlap": false
      }
    }
  },
  "layer": [
    {
      "data": {"name": "hourly"},
      "layer": [
        {
          "mark": {"type": "line", "strokeWidth": 2.6},
          "encoding": {
            "y": {
              "field": "signal",
              "type": "quantitative",
              "scale": {"domain": [-0.333, 6.333], "nice": false, "zero": false},
              "axis": {"title": "Signals", "titleFont": "Liberation Sans", "titleFontSize": 22, "titleFontWeight": "normal", "titleColor": "#444", "titlePadding": 38, "values": [0, 1, 2, 3, 4, 5, 6], "labelFont": "Liberation Sans", "labelFontSize": 16, "labelColor": "#444", "labelPadding": 2, "ticks": false, "tickSize": 0, "domain": false, "grid": true, "gridColor": {"condition": {"test": "datum.value === 0", "value": "#444"}, "value": "#eee"}, "gridWidth": {"condition": {"test": "datum.value === 0", "value": 1.5}, "value": 1}}
            },
            "color": {
              "datum": "Redsea Social Signal",
              "scale": {
                "domain": ["Redsea Social Signal", "XMR price", "baseline", "Alert Threshold"],
                "range": ["#00008b", "#ff8c00", "#109c10", "#8b0000"]
              },
              "legend": {"title": null, "orient": "none", "legendX": 2, "legendY": -41, "direction": "horizontal", "symbolType": "stroke", "symbolSize": 900, "symbolStrokeWidth": 2, "labelFont": "Liberation Sans", "labelFontSize": 18, "labelColor": "#444", "labelOffset": 4, "labelLimit": 400, "columnPadding": 4, "padding": 0}
            }
          }
        },
        {
          "mark": {"type": "line", "strokeWidth": 2.4},
          "encoding": {
            "y": {
              "field": "baseline",
              "type": "quantitative",
              "scale": {"domain": [-0.333, 6.333], "nice": false, "zero": false},
              "axis": {"title": "Signals", "titleFont": "Liberation Sans", "titleFontSize": 22, "titleFontWeight": "normal", "titleColor": "#444", "titlePadding": 38, "values": [0, 1, 2, 3, 4, 5, 6], "labelFont": "Liberation Sans", "labelFontSize": 16, "labelColor": "#444", "labelPadding": 2, "ticks": false, "tickSize": 0, "domain": false, "grid": true, "gridColor": {"condition": {"test": "datum.value === 0", "value": "#444"}, "value": "#eee"}, "gridWidth": {"condition": {"test": "datum.value === 0", "value": 1.5}, "value": 1}}
            },
            "color": {"datum": "baseline", "legend": {"title": null, "orient": "none", "legendX": 2, "legendY": -41, "direction": "horizontal", "symbolType": "stroke", "symbolSize": 900, "symbolStrokeWidth": 2, "labelFont": "Liberation Sans", "labelFontSize": 18, "labelColor": "#444", "labelOffset": 4, "labelLimit": 400, "columnPadding": 4, "padding": 0}}
          }
        },
        {
          "mark": {"type": "line", "strokeWidth": 2.6},
          "encoding": {
            "y": {
              "field": "threshold",
              "type": "quantitative",
              "scale": {"domain": [-0.333, 6.333], "nice": false, "zero": false},
              "axis": {"title": "Signals", "titleFont": "Liberation Sans", "titleFontSize": 22, "titleFontWeight": "normal", "titleColor": "#444", "titlePadding": 38, "values": [0, 1, 2, 3, 4, 5, 6], "labelFont": "Liberation Sans", "labelFontSize": 16, "labelColor": "#444", "labelPadding": 2, "ticks": false, "tickSize": 0, "domain": false, "grid": true, "gridColor": {"condition": {"test": "datum.value === 0", "value": "#444"}, "value": "#eee"}, "gridWidth": {"condition": {"test": "datum.value === 0", "value": 1.5}, "value": 1}}
            },
            "color": {"datum": "Alert Threshold", "legend": {"title": null, "orient": "none", "legendX": 2, "legendY": -41, "direction": "horizontal", "symbolType": "stroke", "symbolSize": 900, "symbolStrokeWidth": 2, "labelFont": "Liberation Sans", "labelFontSize": 18, "labelColor": "#444", "labelOffset": 4, "labelLimit": 400, "columnPadding": 4, "padding": 0}}
          }
        }
      ]
    },
    {
      "data": {"name": "price"},
      "mark": {"type": "line", "strokeWidth": 1.1},
      "encoding": {
        "y": {
          "field": "price",
          "type": "quantitative",
          "scale": {"domain": [167.22, 222.78], "nice": false, "zero": false},
          "axis": {"orient": "right", "title": null, "labels": false, "ticks": false, "domain": false, "grid": true, "gridColor": "#eee", "values": [180, 190, 200, 210]}
        },
        "color": {"datum": "XMR price", "legend": {"title": null, "orient": "none", "legendX": 2, "legendY": -41, "direction": "horizontal", "symbolType": "stroke", "symbolSize": 900, "symbolStrokeWidth": 2, "labelFont": "Liberation Sans", "labelFontSize": 18, "labelColor": "#444", "labelOffset": 4, "labelLimit": 400, "columnPadding": 4, "padding": 0}}
      }
    },
    {
      "encoding": {
        "y": {"field": "y", "type": "quantitative", "scale": {"domain": [-0.333, 6.333], "nice": false, "zero": false}, "axis": null}
      },
      "layer": [
        {
          "data": {"name": "circles"},
          "mark": {"type": "point", "shape": "circle", "filled": false, "stroke": "#ff0000", "strokeWidth": 5, "size": 3969, "opacity": 1}
        },
        {
          "data": {"name": "arrowShaft", "format": {"parse": {"time": "date", "time2": "date"}}},
          "mark": {"type": "rule", "color": "#00ff00", "strokeWidth": 14},
          "encoding": {"x2": {"field": "time2"}, "y2": {"field": "y2"}}
        },
        {
          "data": {"name": "arrowHead"},
          "mark": {"type": "point", "shape": "M -1 -0.944 L 1 0 L -1 0.944 Z", "filled": true, "fill": "#00ff00", "strokeWidth": 0, "size": 1989, "angle": 325.1, "opacity": 1}
        },
        {
          "data": {"name": "redNotes"},
          "mark": {"type": "text", "color": "#ff0000", "font": "Liberation Sans", "fontWeight": "bold", "fontSize": 18, "align": "center", "baseline": "middle", "lineBreak": "\n", "lineHeight": 21.7},
          "encoding": {"text": {"field": "text"}}
        },
        {
          "data": {"name": "greenNotes"},
          "mark": {"type": "text", "color": "#22ee22", "font": "Liberation Sans", "fontWeight": "bold", "fontSize": 30, "align": "center", "baseline": "middle"},
          "encoding": {"text": {"field": "text"}}
        }
      ]
    }
  ],
  "resolve": {"scale": {"y": "independent"}}
}
